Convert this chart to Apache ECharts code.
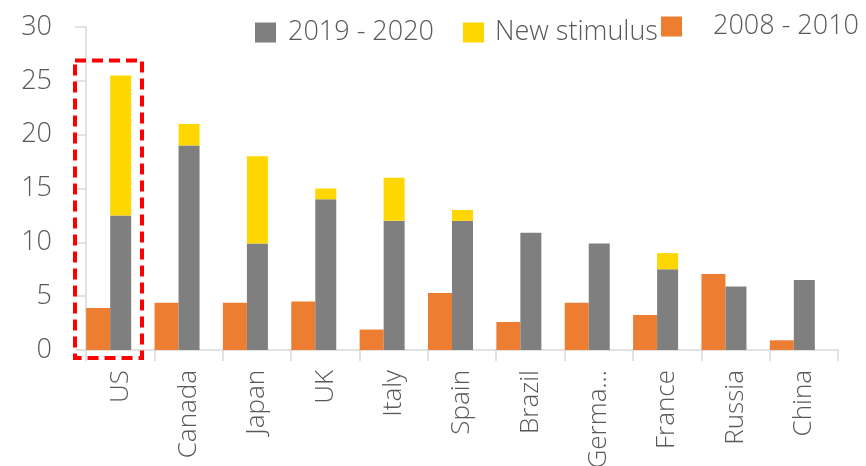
<!DOCTYPE html>
<html>
<head>
<meta charset="utf-8">
<script src="https://cdn.jsdelivr.net/npm/echarts@6/dist/echarts.min.js"></script>
<style>html,body{margin:0;padding:0;background:#fff}#c{width:866px;height:466px}</style>
</head>
<body>
<div id="c"></div>
<script>
const categories = ['US','Canada','Japan','UK','Italy','Spain','Brazil','Germa...','France','Russia','China'];
const crisis0810 = [3.9, 4.4, 4.4, 4.5, 1.9, 5.3, 2.6, 4.4, 3.25, 7.05, 0.9];
const covid1920 = [12.5, 19.0, 9.9, 14.0, 12.0, 12.0, 10.9, 9.9, 7.5, 5.9, 6.5];
const newStimulus = [13.0, 2.0, 8.1, 1.0, 4.0, 1.0, 0, 0, 1.5, 0, 0];
const yTicks = [0, 5, 10, 15, 20, 25, 30];
const highlightCategory = 'US';

const FONT = 'Open Sans';
const FW = 300;
const TXT = '#595959';
const chart = echarts.init(document.getElementById('c'));
const legendBase = {
  icon: 'rect', itemWidth: 21, itemHeight: 20, selectedMode: false,
  textStyle: { fontFamily: FONT, fontWeight: FW, fontSize: 27, color: TXT }
};
chart.setOption({
  animation: false,
  grid: { left: 86, right: 28, top: 27, bottom: 116, containLabel: false, outerBoundsMode: 'none' },
  legend: [
    Object.assign({}, legendBase, { data: ['2019 - 2020'], left: 250, top: 14,
      textStyle: Object.assign({}, legendBase.textStyle, { padding: [0,0,0,7] }) }),
    Object.assign({}, legendBase, { data: ['New stimulus'], left: 458, top: 14,
      textStyle: Object.assign({}, legendBase.textStyle, { padding: [0,0,0,6] }) }),
    Object.assign({}, legendBase, { data: ['2008 - 2010'], left: 656, top: 8,
      textStyle: Object.assign({}, legendBase.textStyle, { padding: [0,0,0,26] }) })
  ],
  xAxis: {
    type: 'category', data: categories,
    axisLine: { lineStyle: { color: '#d9d9d9', width: 1.5 } },
    axisTick: { show: true, length: 11, lineStyle: { color: '#d9d9d9', width: 1.5 } },
    axisLabel: { rotate: 90, margin: 20, fontFamily: FONT, fontWeight: FW, fontSize: 26, color: TXT, interval: 0 }
  },
  yAxis: {
    type: 'value', min: yTicks[0], max: yTicks[yTicks.length-1], interval: 5,
    splitLine: { show: false },
    axisLine: { show: true, lineStyle: { color: '#d9d9d9', width: 1.5 } },
    axisTick: { show: true, length: 11, lineStyle: { color: '#d9d9d9', width: 1.5 } },
    axisLabel: { margin: 34, fontFamily: FONT, fontWeight: FW, fontSize: 27, color: TXT }
  },
  series: [
    { name: '2008 - 2010', type: 'bar', data: crisis0810, barWidth: 24, barGap: '0%', barCategoryGap: '0%',
      itemStyle: { color: '#ED7D31' } },
    { name: '2019 - 2020', type: 'bar', stack: 's', data: covid1920, barWidth: 21, barGap: '0%', barCategoryGap: '0%',
      itemStyle: { color: '#7F7F7F' } },
    { name: 'New stimulus', type: 'bar', stack: 's', data: newStimulus, barWidth: 21, barGap: '0%', barCategoryGap: '0%',
      itemStyle: { color: '#FFD700' } },
    { name: 'spacer', type: 'bar', data: [], barWidth: 23, barGap: '0%', barCategoryGap: '0%',
      itemStyle: { color: 'rgba(0,0,0,0)' }, silent: true }
  ]
});

// dashed highlight box around the US group, derived from the axes
const idx = categories.indexOf(highlightCategory);
const total = covid1920[idx] + newStimulus[idx];
const center = chart.convertToPixel({ xAxisIndex: 0 }, highlightCategory);
const c1 = chart.convertToPixel({ xAxisIndex: 0 }, categories[idx+1]);
const band = c1 - center;
const yTop = chart.convertToPixel({ yAxisIndex: 0 }, total);
const yZero = chart.convertToPixel({ yAxisIndex: 0 }, 0);
const x0 = center - band/2 - 11;
const x1 = center - band/2 + 56;
chart.setOption({
  graphic: [{
    type: 'rect', z: 100,
    shape: { x: x0, y: yTop - 15, width: x1 - x0, height: yZero + 8 - (yTop - 15) },
    style: { fill: null, stroke: '#FF0000', lineWidth: 4, lineDash: [11, 6] }
  }]
});
</script>
</body>
</html>
